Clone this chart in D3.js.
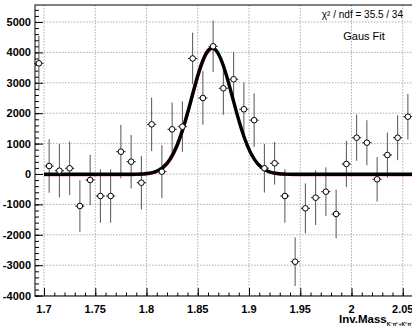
<!DOCTYPE html>
<html>
<head>
<meta charset="utf-8">
<script src="https://cdn.jsdelivr.net/npm/d3@7"></script>
<style>
  html, body { margin: 0; padding: 0; background: #fff; }
  svg { display: block; }
</style>
</head>
<body>
<svg id="chart" width="412" height="330"></svg>
<script>
// ---- data ----
const binCenters = [1.695, 1.705, 1.715, 1.725, 1.735, 1.745, 1.755, 1.765, 1.775, 1.785,
                    1.795, 1.805, 1.815, 1.825, 1.835, 1.845, 1.855, 1.865, 1.875, 1.885,
                    1.895, 1.905, 1.915, 1.925, 1.935, 1.945, 1.955, 1.965, 1.975, 1.985,
                    1.995, 2.005, 2.015, 2.025, 2.035, 2.045, 2.055];
const counts = [3640, 263, 109, 187, -1053, -197, -724, -724, 734, 405,
                -286, 1634, 76, 1470, 1557, 3800, 2500, 4200, 2820, 3115,
                2130, 1770, 190, 352, -724, -2885, -1129, -779, -582, -1316,
                329, 1194, 1030, -174, 625, 1194, 1885];
const errors = [900, 880, 880, 880, 850, 830, 880, 880, 880, 880,
                880, 880, 870, 880, 830, 850, 880, 850, 870, 900,
                880, 880, 800, 700, 880, 800, 820, 900, 800, 800,
                760, 760, 740, 730, 740, 740, 750];
const xTicks = [1.7, 1.75, 1.8, 1.85, 1.9, 1.95, 2.0, 2.05];
const xTickLabels = ["1.7", "1.75", "1.8", "1.85", "1.9", "1.95", "2", "2.05"];
const yTicks = [-4000, -3000, -2000, -1000, 0, 1000, 2000, 3000, 4000, 5000];
const yTickLabels = ["-4000", "-3000", "-2000", "-1000", "0", "1000", "2000", "3000", "4000", "5000"];
// Gaussian fit parameters: [constant, mean, sigma], baseline, fit range
const fitParams = [4150, 1.864, 0.0200];
const fitBaseline = [-10];
const fitRange = [1.7, 2.06];
const statsText = ["χ² / ndf =  35.5 / 34"];
const titleText = ["Gaus Fit"];

// ---- layout ----
const svg = d3.select("#chart");
const frame = { left: 35, top: 5, right: 413, bottom: 296 };
const x = d3.scaleLinear().domain([1.6912, 2.06]).range([frame.left, frame.right]);
const y = d3.scaleLinear().domain([-4013, 5559]).range([frame.bottom, frame.top]);

svg.append("rect").attr("width", 412).attr("height", 330).attr("fill", "#fff");

const labelFont = "'Liberation Sans Narrow', 'Arial Narrow', 'Liberation Sans', sans-serif";

// grid
const grid = svg.append("g").attr("stroke", "#9a9a9a").attr("stroke-width", 0.8)
  .attr("stroke-dasharray", "1.5,1.5");
xTicks.forEach(v => grid.append("line")
  .attr("x1", x(v)).attr("x2", x(v)).attr("y1", frame.top).attr("y2", frame.bottom));
yTicks.forEach(v => grid.append("line")
  .attr("x1", frame.left).attr("x2", frame.right).attr("y1", y(v)).attr("y2", y(v)));

// axes (ticks inside)
const yAxis = d3.axisRight(y).tickValues(yTicks).tickSize(8).tickFormat("");
const yMinor = d3.axisRight(y).tickValues(d3.range(-4000, 5600, 200)).tickSize(4).tickFormat("");
const gy = svg.append("g").attr("transform", `translate(${frame.left},0)`);
gy.call(yAxis);
const gym = svg.append("g").attr("transform", `translate(${frame.left},0)`);
gym.call(yMinor);
const xAxis = d3.axisTop(x).tickValues(xTicks).tickSize(8).tickFormat("");
const xMinor = d3.axisTop(x).tickValues(d3.range(1.7, 2.06, 0.01)).tickSize(3.5).tickFormat("");
const gx = svg.append("g").attr("transform", `translate(0,${frame.bottom})`);
gx.call(xAxis);
const gxm = svg.append("g").attr("transform", `translate(0,${frame.bottom})`);
gxm.call(xMinor);
[gy, gym, gx, gxm].forEach(g => {
  g.select(".domain").remove();
  g.selectAll("line").attr("stroke", "#000").attr("stroke-width", 1);
});

// tick labels
svg.append("g").selectAll("text").data(yTicks).join("text")
  .attr("x", 31).attr("y", d => y(d)).attr("dy", "0.36em")
  .attr("text-anchor", "end")
  .attr("font-family", labelFont).attr("font-weight", "bold").attr("font-size", 11)
  .text((d, i) => yTickLabels[i]);
svg.append("g").selectAll("text").data(xTicks).join("text")
  .attr("x", d => x(d)).attr("y", 312.5)
  .attr("text-anchor", "middle")
  .attr("font-family", labelFont).attr("font-weight", "bold").attr("font-size", 11)
  .text((d, i) => xTickLabels[i]);

// axis title (single text with subscript tspan)
const at = svg.append("text").attr("x", 339).attr("y", 323)
  .attr("font-family", labelFont).attr("font-weight", "bold").attr("font-size", 11.5);
at.append("tspan").text("Inv.Mass");
at.append("tspan").attr("font-size", 5.2).attr("dy", 3).text("K⁻π⁺+K⁺π⁻");

// error bars
const pts = binCenters.map((c, i) => ({ x: c, y: counts[i], e: errors[i] }));
const eb = svg.append("g");
eb.selectAll("line.v").data(pts).join("line").attr("class", "v")
  .attr("x1", d => x(d.x)).attr("x2", d => x(d.x))
  .attr("y1", d => y(d.y + d.e)).attr("y2", d => y(d.y - d.e))
  .attr("stroke", "#555").attr("stroke-width", 1);
eb.selectAll("line.h").data(pts).join("line").attr("class", "h")
  .attr("x1", d => x(d.x - 0.0045)).attr("x2", d => x(d.x + 0.0045))
  .attr("y1", d => y(d.y)).attr("y2", d => y(d.y))
  .attr("stroke", "#222").attr("stroke-width", 1);

// fit curve
const gauss = v => fitBaseline[0] + fitParams[0] * Math.exp(-0.5 * Math.pow((v - fitParams[1]) / fitParams[2], 2));
const samples = d3.range(fitRange[0], fitRange[1] + 0.0001, 0.001);
const line = d3.line().x(d => x(d)).y(d => y(gauss(d))).curve(d3.curveLinear);
svg.append("path").datum(samples).attr("d", line)
  .attr("fill", "none").attr("stroke", "#d02020").attr("stroke-width", 1.4)
  .attr("transform", "translate(0.8,1.2)");
svg.append("path").datum(samples).attr("d", line)
  .attr("fill", "none").attr("stroke", "#000").attr("stroke-width", 3.4);

// markers
svg.append("g").selectAll("circle").data(pts).join("circle")
  .attr("cx", d => x(d.x)).attr("cy", d => y(d.y)).attr("r", 2.8)
  .attr("fill", "#fff").attr("stroke", "#000").attr("stroke-width", 1);

// frame
svg.append("rect").attr("x", frame.left).attr("y", frame.top)
  .attr("width", frame.right - frame.left).attr("height", frame.bottom - frame.top)
  .attr("fill", "none").attr("stroke", "#000").attr("stroke-width", 1);

// stats / title text
svg.append("text").attr("x", 403).attr("y", 18).attr("text-anchor", "end")
  .attr("font-family", "'Liberation Sans', Arial, sans-serif").attr("font-size", 10)
  .text(statsText[0]);
svg.append("text").attr("x", 364).attr("y", 40).attr("text-anchor", "middle")
  .attr("font-family", "'Liberation Sans', Arial, sans-serif").attr("font-size", 11)
  .text(titleText[0]);
</script>
</body>
</html>
